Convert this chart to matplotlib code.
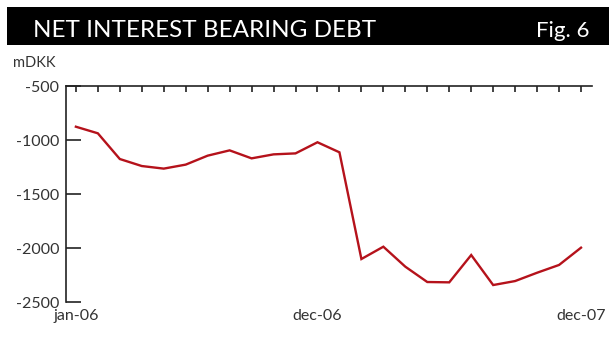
import matplotlib
matplotlib.use("Agg")
import matplotlib.pyplot as plt
from matplotlib.patches import Rectangle
from matplotlib.ticker import FixedLocator

# Monthly net interest bearing debt, jan-06 .. dec-07 (mDKK)
months = [
	"jan-06", "feb-06", "mar-06", "apr-06", "may-06", "jun-06",
	"jul-06", "aug-06", "sep-06", "oct-06", "nov-06", "dec-06",
	"jan-07", "feb-07", "mar-07", "apr-07", "may-07", "jun-07",
	"jul-07", "aug-07", "sep-07", "oct-07", "nov-07", "dec-07",
]
debt = [
	-877, -938, -1176, -1241, -1265, -1228,
	-1145, -1096, -1170, -1133, -1124, -1021,
	-1114, -2102, -1988, -2173, -2315, -2318,
	-2065, -2343, -2306, -2229, -2157, -1997,
]
labelled_months = ["jan-06", "dec-06", "dec-07"]
y_ticks = [-500, -1000, -1500, -2000, -2500]

W, H = 609, 342
plt.rcParams["font.family"] = ["Lato", "DejaVu Sans"]

fig = plt.figure(figsize=(W / 100, H / 100), dpi=100)

# Black title bar
fig.patches.append(Rectangle((7 / W, 1 - 45 / H), 1, 38 / H,
	transform=fig.transFigure, facecolor="black", edgecolor="none"))
fig.text(33 / W, 1 - 37 / H, "NET INTEREST BEARING DEBT", color="white",
	fontsize=17.5, va="baseline", ha="left")
fig.text(590 / W, 1 - 37 / H, "Fig. 6", color="white",
	fontsize=16, va="baseline", ha="right")
fig.text(13 / W, 1 - 67 / H, "mDKK", color="#333333", fontsize=10.5,
	va="baseline", ha="left")

ax = fig.add_axes([66 / W, 1 - 302 / H, 526 / W, 216 / H])
x = list(range(len(months)))
ax.plot(x, debt, color="#B5121B", linewidth=1.7, solid_joinstyle="miter")

ax.set_xlim(-0.45, 23.5)
ax.set_ylim(-2500, -500)

for side in ("right", "bottom"):
	ax.spines[side].set_visible(False)
for side in ("left", "top"):
	ax.spines[side].set_color("#222222")
	ax.spines[side].set_linewidth(1.2)

# x: tick marks on the top spine, labels at the bottom
ax.xaxis.set_major_locator(FixedLocator([months.index(m) for m in labelled_months]))
ax.set_xticklabels(labelled_months)
ax.xaxis.set_minor_locator(FixedLocator(x))
ax.tick_params(axis="x", which="both", top=True, bottom=False, labelbottom=True,
	direction="in", length=4, width=1.2, color="#222222", pad=5,
	labelsize=11.5, labelcolor="#333333")

ax.set_yticks(y_ticks)
ax.set_yticklabels([str(v) for v in y_ticks])
ax.tick_params(axis="y", direction="in", length=11, width=1.2, color="#222222",
	pad=5, labelsize=11.5, labelcolor="#333333")

fig.savefig("out.png", dpi=100)
